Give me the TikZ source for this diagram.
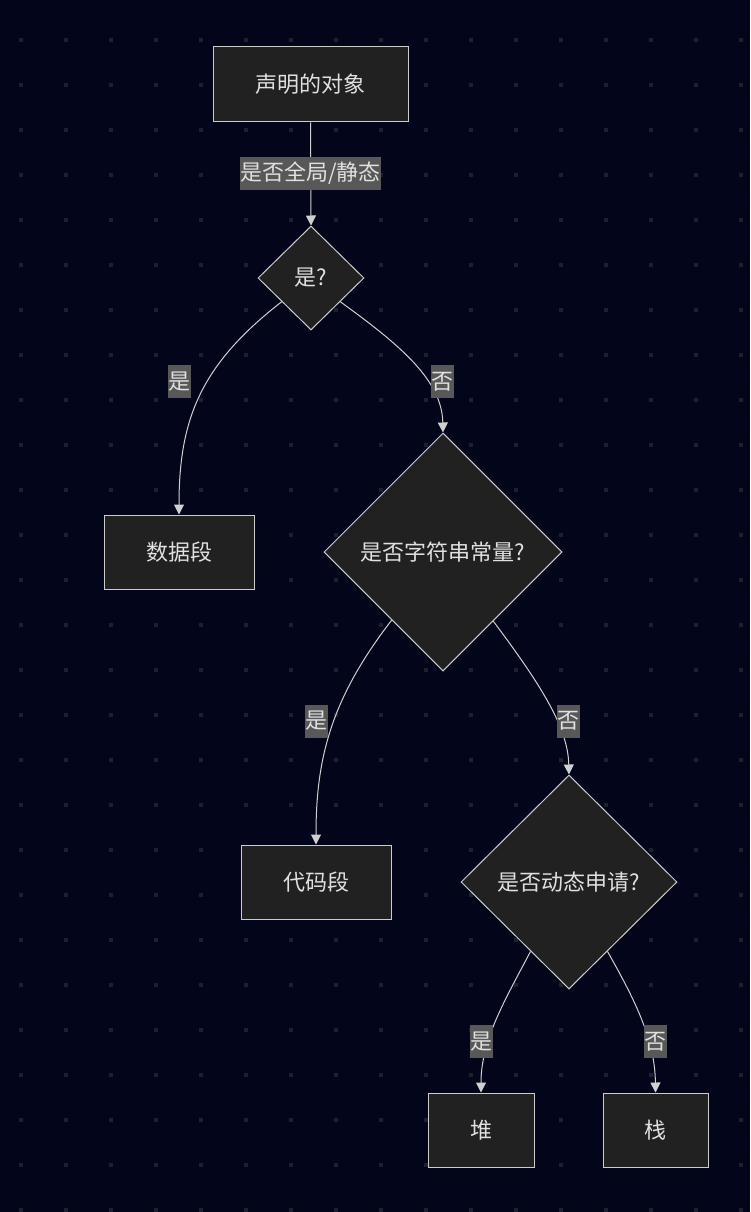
\documentclass[tikz,border=0pt]{standalone}
\usepackage{fontspec}
\setmainfont{Noto Sans CJK SC}
\usetikzlibrary{shapes.geometric,arrows.meta}
\definecolor{bgc}{HTML}{03061A}
\definecolor{dotc}{HTML}{1E2030}
\definecolor{nodefill}{HTML}{212121}
\definecolor{nodeline}{HTML}{CCCCCC}
\definecolor{labfill}{HTML}{585858}
\definecolor{txt}{HTML}{E0E0E0}
\definecolor{edgec}{HTML}{D0D0D0}
\tikzset{
  box/.style={draw=nodeline, fill=nodefill, line width=1pt, text=txt, font=\fontsize{22}{26}\selectfont, inner sep=0pt},
  dia/.style={diamond, draw=nodeline, fill=nodefill, line width=1pt, text=txt, font=\fontsize{22}{26}\selectfont, inner sep=0pt},
  lab/.style={fill=labfill, text=txt, font=\fontsize{22}{26}\selectfont, inner xsep=0.5pt, inner ysep=0pt, minimum height=33pt},
  edge/.style={draw=edgec, line width=1pt, -{Triangle[width=10pt,length=10pt]}},
}
\begin{document}
\begin{tikzpicture}[x=1pt,y=-1pt]
\fill[bgc] (0,0) rectangle (750,1212);
\useasboundingbox (0,0) rectangle (750,1212);
\foreach \i in {0,...,16}{
  \foreach \j in {0,...,26}{
    \fill[dotc] ({21+45*\i-2},{40+45*\j-2}) rectangle ++(4,4);
  }
}
% nodes
\node[box, minimum width=195pt, minimum height=75pt] (obj) at (310.5,84.5) {声明的对象};
\node[dia, minimum width=106pt, minimum height=104pt] (d1) at (311,278) {是?};
\node[box, minimum width=150pt, minimum height=74pt] (data) at (179,552) {数据段};
\node[dia, minimum width=238pt, minimum height=238pt] (d2) at (443,552) {是否字符串常量?};
\node[box, minimum width=150pt, minimum height=74pt] (code) at (316,882) {代码段};
\node[dia, minimum width=216pt, minimum height=214pt] (d3) at (569,882) {是否动态申请?};
\node[box, minimum width=106pt, minimum height=74pt] (heap) at (481,1130) {堆};
\node[box, minimum width=105pt, minimum height=74pt] (stack) at (655.5,1130) {栈};
% edges
\draw[edge] (obj.south) -- (d1.north);
\draw[edge] (d1.-141) .. controls (200,365) and (179,420) .. (data.north);
\draw[edge] (d1.-39) .. controls (400,345) and (442,380) .. (d2.north);
\draw[edge] (d2.-127) .. controls (330,700) and (316,760) .. (code.north);
\draw[edge] (d2.-54) .. controls (545,690) and (568,730) .. (d3.north);
\draw[edge] (d3.-119) .. controls (505,1000) and (481,1040) .. (heap.north);
\draw[edge] (d3.-61) .. controls (635,1000) and (655,1040) .. (stack.north);
% labels
\node[lab] (l0) at (310.5,173.5) {是否全局/静态};
\node[lab] (l1) at (179,381.5) {是};
\node[lab] (l2) at (442,381.5) {否};
\node[lab] (l3) at (316,721) {是};
\node[lab] (l4) at (568,721) {否};
\node[lab] (l5) at (481,1041.5) {是};
\node[lab] (l6) at (655,1041.5) {否};
\end{tikzpicture}
\end{document}
